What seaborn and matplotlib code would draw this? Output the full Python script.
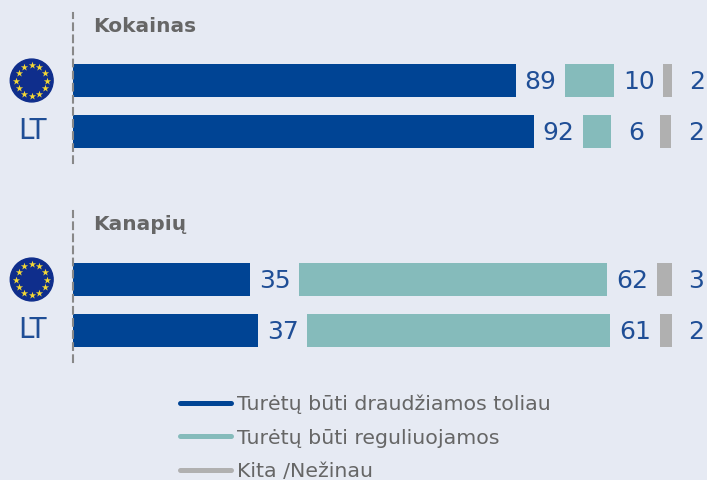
import numpy as np
import pandas as pd
import seaborn as sns
import matplotlib.pyplot as plt
from matplotlib.lines import Line2D

# values
rows = ['EU', 'LT']
titles = ['Kokainas', 'Kanapių']
forbid = [[88.6, 92.2], [35.4, 37.0]]
regulate = [[9.8, 5.6], [61.6, 60.6]]
other = [[1.8, 2.2], [3.0, 2.4]]
legend_labels = ['Turėtų būti draudžiamos toliau', 'Turėtų būti reguliuojamos', 'Kita /Nežinau']

colors = ['#004494', '#85BBBB', '#B0B0B0']
bg = '#E6EAF3'
blue_text = '#1F4E96'
grey_text = '#666666'
gap = 9.85      # empty space between the segments, same units as the values

W, H = 707, 480

sns.set_theme(style='white')
plt.rcParams['font.family'] = ['DejaVu Sans']

fig = plt.figure(figsize=(W / 100, H / 100), dpi=100, facecolor=bg)


def px_axes(left, top, right, bottom):
    return fig.add_axes([left / W, 1 - bottom / H, (right - left) / W, (bottom - top) / H])


def eu_flag(cx, cy, r=21.5):
    a = px_axes(cx - r - 1, cy - r - 1, cx + r + 1, cy + r + 1)
    a.set_xlim(-1.05, 1.05)
    a.set_ylim(-1.05, 1.05)
    a.axis('off')
    a.add_patch(plt.Circle((0, 0), 1, color='#0F2E8C'))
    ang = np.deg2rad(np.arange(0, 360, 30))
    a.scatter(0.71 * np.cos(ang), 0.71 * np.sin(ang), marker='*', s=30, color='#F4D835', linewidths=0)


tops = [12.5, 211.5]
for i in range(2):
    top = tops[i]
    ax = px_axes(73, top, 707, top + 150)
    ax.set_facecolor('none')

    df = pd.DataFrame({'row': rows, 'forbid': forbid[i], 'regulate': regulate[i], 'other': other[i]})
    start2 = df['forbid'] + gap
    start3 = start2 + df['regulate'] + gap

    bar_kws = dict(saturation=1, width=0.64, linewidth=0, ax=ax)
    sns.barplot(data=df, y='row', x='forbid', color=colors[0], **bar_kws)
    sns.barplot(data=df, y='row', x='regulate', left=start2, color=colors[1], **bar_kws)
    sns.barplot(data=df, y='row', x='other', left=start3, color=colors[2], **bar_kws)

    series = [forbid[i], regulate[i], other[i]]
    for c, vals in zip(ax.containers, series):
        labels = ['%.0f' % v for v in vals]
        for t in ax.bar_label(c, labels=labels, padding=17.7, color=blue_text, fontsize=18):
            t.set_ha('center')
            t.xyann = (t.xyann[0], t.xyann[1] - 1.1)

    ax.set_xlim(0, 634 / 5)
    ax.set_ylim(1.608, -1.333)
    ax.set_xlabel('')
    ax.set_ylabel('')
    ax.set_xticks([])
    ax.set_yticks([0, 1])
    ax.set_yticklabels(['', 'LT'], color=blue_text, fontsize=20)
    ax.tick_params(axis='y', length=0, pad=18.7)
    for t in ax.get_yticklabels():
        t.set_va('center')

    sns.despine(ax=ax, top=True, right=True, bottom=True)
    ax.spines['left'].set_linestyle((0, (3.2, 2.6)))
    ax.spines['left'].set_color('#888888')
    ax.spines['left'].set_linewidth(1.5)
    ax.set_zorder(1)

    ax.text(20 / 634, 1 - 13.5 / 150, titles[i], transform=ax.transAxes, color=grey_text,
            fontsize=14.5, fontweight='bold', va='center', ha='left')

    eu_flag(31.7, top + 68)

handles = [Line2D([], [], color=c, lw=3.6, solid_capstyle='round') for c in colors]
fig.legend(handles, legend_labels, loc='upper left', bbox_to_anchor=(180 / W, 1 - 394.5 / H),
           frameon=False, fontsize=14.75, labelcolor='#666666', handlelength=2.5, handletextpad=0.3,
           labelspacing=0.71, borderpad=0, borderaxespad=0)

fig.savefig('out.png', dpi=100, facecolor=bg)
